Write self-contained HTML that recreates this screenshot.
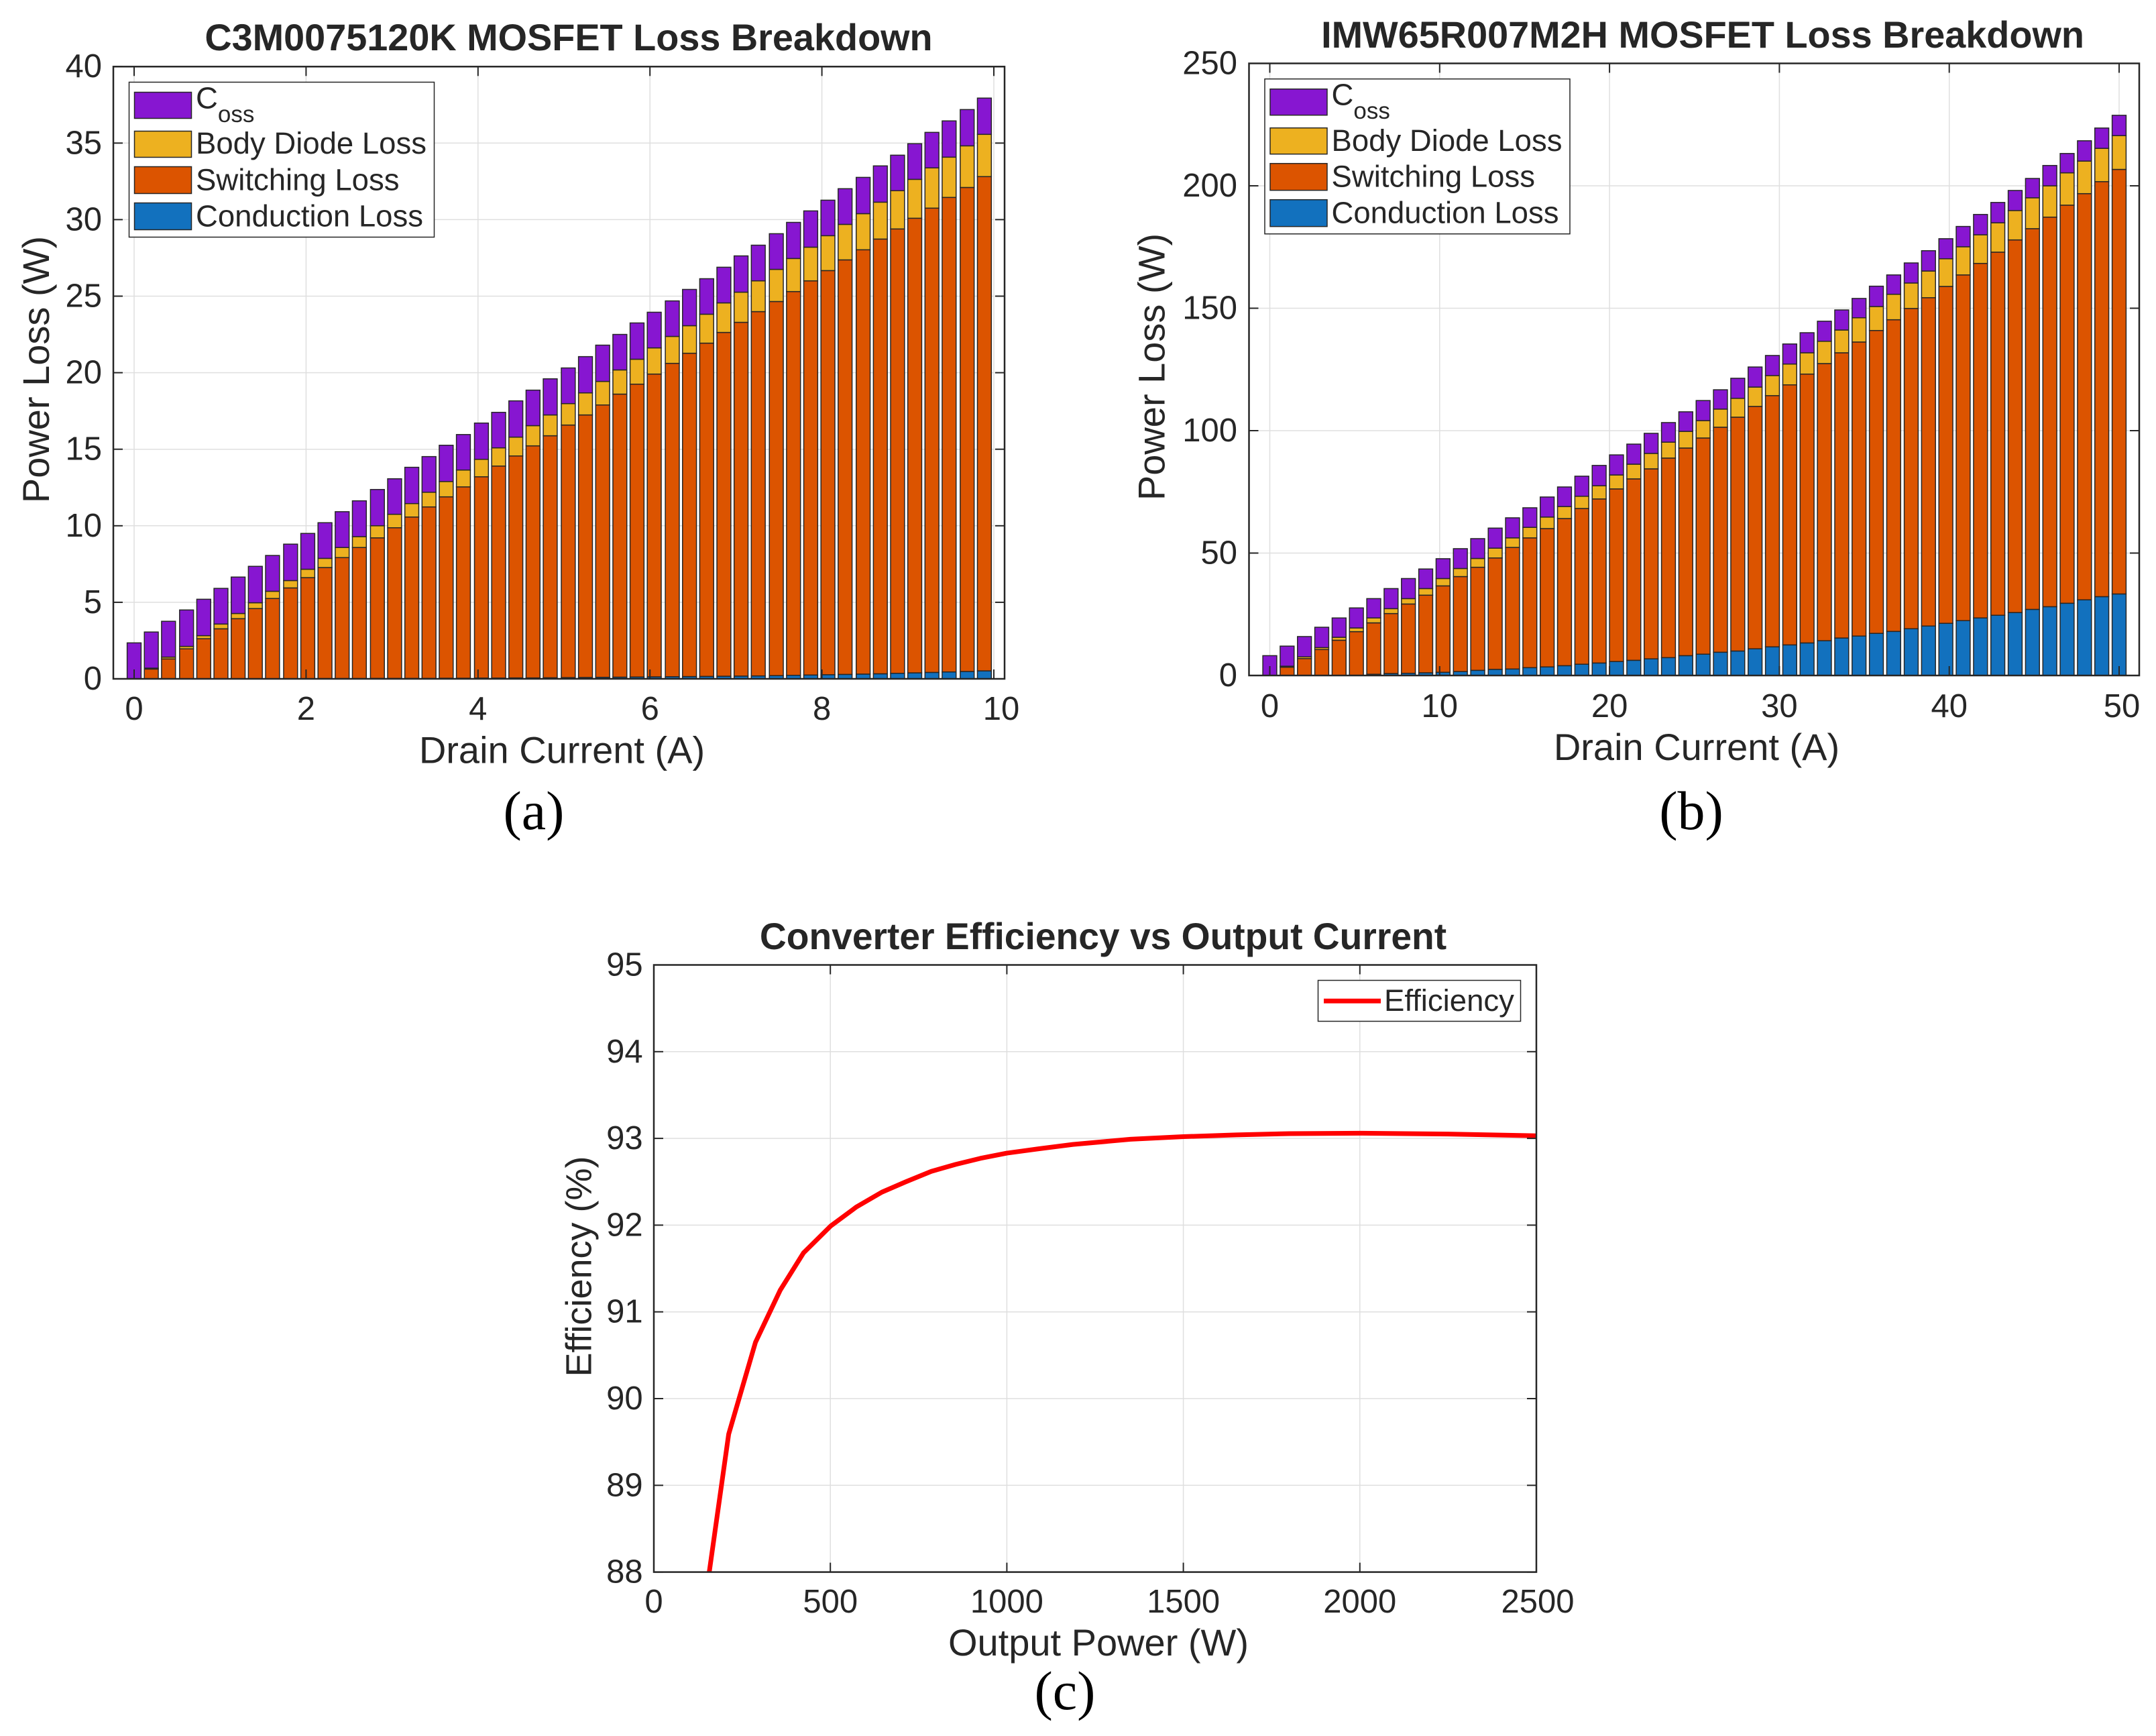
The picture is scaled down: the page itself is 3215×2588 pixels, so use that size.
<!DOCTYPE html>
<html lang="en">
<head>
<meta charset="utf-8">
<title>MOSFET Loss Breakdown and Converter Efficiency</title>
<style>
html,body{margin:0;padding:0;background:#fff;}
svg{display:block;}
text{font-family:"Liberation Sans",Arial,sans-serif;fill:#262626;}
.tick{font-size:49px;}
.axis-label{font-size:56px;}
.title{font-size:55.8px;font-weight:bold;}
.title-c{font-size:55.2px;}
.legend-text{font-size:45.5px;}
.legend-sub{font-size:35px;}
.caption{font-family:"Liberation Serif","Times New Roman",serif;font-size:82px;fill:#000;}
.legend-box{fill:#fff;stroke:#262626;stroke-width:1.5;}
.swatch{stroke:#262626;stroke-width:1.5;}
</style>
</head>
<body>
<svg id="figure" xmlns="http://www.w3.org/2000/svg" width="3215" height="2588" viewBox="0 0 3215 2588">
  <rect x="0" y="0" width="3215" height="2588" fill="#fff"/>
  <defs>
    <clipPath id="clip-c"><rect x="975" y="1438.5" width="1316" height="905.1"/></clipPath>
  </defs>

  <g id="chart-a"></g>
  <g id="chart-b"></g>
  <g id="chart-c"></g>

  <text class="title" x="848" y="75" text-anchor="middle">C3M0075120K MOSFET Loss Breakdown</text>
  <text class="axis-label" x="838" y="1137.5" text-anchor="middle">Drain Current (A)</text>
  <text class="axis-label" transform="translate(73 551) rotate(-90)" text-anchor="middle">Power Loss (W)</text>
  <text class="caption" x="796" y="1236" text-anchor="middle">(a)</text>

  <text class="title" x="2539" y="71" text-anchor="middle">IMW65R007M2H MOSFET Loss Breakdown</text>
  <text class="axis-label" x="2530" y="1133" text-anchor="middle">Drain Current (A)</text>
  <text class="axis-label" transform="translate(1736.5 547) rotate(-90)" text-anchor="middle">Power Loss (W)</text>
  <text class="caption" x="2522" y="1236" text-anchor="middle">(b)</text>

  <text class="title title-c" x="1645" y="1415" text-anchor="middle">Converter Efficiency vs Output Current</text>
  <text class="axis-label" x="1638" y="2468" text-anchor="middle">Output Power (W)</text>
  <text class="axis-label" transform="translate(881.5 1888) rotate(-90)" text-anchor="middle" style="font-size:54px">Efficiency (%)</text>
  <text class="caption" x="1588" y="2548" text-anchor="middle">(c)</text>

  <g id="legend-a">
    <rect class="legend-box" x="192.5" y="122.5" width="455" height="231"/>
    <rect class="swatch" x="200.5" y="137.5" width="85" height="39" fill="#8716d1"/>
    <text class="legend-text" x="292" y="161.5">C<tspan class="legend-sub" dy="20.5">oss</tspan></text>
    <rect class="swatch" x="200.5" y="195.5" width="85" height="39" fill="#edb120"/>
    <text class="legend-text" x="292" y="229">Body Diode Loss</text>
    <rect class="swatch" x="200.5" y="248.5" width="85" height="40" fill="#dc5400"/>
    <text class="legend-text" x="292" y="283.5">Switching Loss</text>
    <rect class="swatch" x="200.5" y="302.5" width="85" height="40" fill="#1271be"/>
    <text class="legend-text" x="292" y="337.5">Conduction Loss</text>
  </g>

  <g id="legend-b" transform="translate(1693.5 -4.8)">
    <rect class="legend-box" x="192.5" y="122.5" width="455" height="231"/>
    <rect class="swatch" x="200.5" y="137.5" width="85" height="39" fill="#8716d1"/>
    <text class="legend-text" x="292" y="161.5">C<tspan class="legend-sub" dy="20.5">oss</tspan></text>
    <rect class="swatch" x="200.5" y="195.5" width="85" height="39" fill="#edb120"/>
    <text class="legend-text" x="292" y="230">Body Diode Loss</text>
    <rect class="swatch" x="200.5" y="248.5" width="85" height="40" fill="#dc5400"/>
    <text class="legend-text" x="292" y="283.5">Switching Loss</text>
    <rect class="swatch" x="200.5" y="302.5" width="85" height="40" fill="#1271be"/>
    <text class="legend-text" x="292" y="337.5">Conduction Loss</text>
  </g>

  <g id="legend-c">
    <rect class="legend-box" x="1965.5" y="1461.5" width="302" height="61"/>
    <line x1="1974" y1="1492.3" x2="2059" y2="1492.3" stroke="#ff0000" stroke-width="7"/>
    <text class="legend-text" x="2064" y="1507">Efficiency</text>
  </g>
</svg>

<script>
// ---------- Chart (a) data: C3M0075120K ----------
const currentA = [0,0.2,0.4,0.61,0.81,1.01,1.21,1.41,1.61,1.82,2.02,2.22,2.42,2.62,2.83,3.03,3.23,3.43,3.63,3.83,4.04,4.24,4.44,4.64,4.84,5.05,5.25,5.45,5.65,5.85,6.05,6.26,6.46,6.66,6.86,7.06,7.26,7.47,7.67,7.87,8.07,8.27,8.48,8.68,8.88,9.08,9.28,9.48,9.69,9.89];
const conductionA = [0,0,0,0,0,0,0,0,0.01,0.01,0.01,0.02,0.02,0.02,0.03,0.03,0.03,0.03,0.04,0.04,0.05,0.05,0.06,0.06,0.07,0.08,0.09,0.1,0.11,0.12,0.13,0.14,0.15,0.16,0.17,0.18,0.19,0.21,0.23,0.25,0.27,0.29,0.31,0.33,0.36,0.39,0.42,0.45,0.48,0.52];
const switchingA = [0,0.64,1.3,1.96,2.62,3.27,3.93,4.59,5.24,5.93,6.6,7.25,7.9,8.56,9.18,9.84,10.54,11.2,11.85,12.5,13.15,13.85,14.5,15.16,15.81,16.5,17.15,17.79,18.49,19.13,19.78,20.47,21.12,21.77,22.46,23.11,23.8,24.44,25.07,25.75,26.4,27.08,27.72,28.4,29.03,29.7,30.33,31,31.62,32.29];
const diodeA = [0,0.06,0.12,0.16,0.2,0.31,0.34,0.38,0.47,0.48,0.55,0.6,0.66,0.71,0.79,0.88,0.88,0.96,1,1.1,1.14,1.19,1.23,1.32,1.36,1.4,1.44,1.54,1.58,1.63,1.71,1.76,1.8,1.89,1.93,1.97,2.01,2.1,2.16,2.2,2.28,2.32,2.36,2.41,2.5,2.54,2.63,2.63,2.72,2.76];
const cossA = [2.35,2.36,2.34,2.38,2.38,2.33,2.38,2.38,2.34,2.38,2.34,2.33,2.34,2.34,2.37,2.32,2.37,2.33,2.37,2.32,2.37,2.32,2.37,2.32,2.36,2.33,2.37,2.37,2.32,2.37,2.33,2.32,2.37,2.32,2.33,2.37,2.33,2.33,2.36,2.37,2.32,2.33,2.37,2.37,2.32,2.33,2.32,2.37,2.37,2.37];
const xTicksA = [0,2,4,6,8,10];
const yTicksA = [0,5,10,15,20,25,30,35,40];

// ---------- Chart (b) data: IMW65R007M2H ----------
const currentB = [0,1.02,2.04,3.06,4.08,5.1,6.12,7.14,8.16,9.18,10.2,11.22,12.24,13.27,14.29,15.31,16.33,17.35,18.37,19.39,20.41,21.43,22.45,23.47,24.49,25.51,26.53,27.55,28.57,29.59,30.61,31.63,32.65,33.67,34.69,35.71,36.73,37.76,38.78,39.8,40.82,41.84,42.86,43.88,44.9,45.92,46.94,47.96,48.98,50];
const conductionB = [0,0,0,0,0,0.1,0.5,0.8,0.9,1.1,1.3,1.6,2.1,2.5,2.65,3.2,3.5,4,4.6,5.1,5.7,6.2,6.8,7.3,8.1,8.7,9.5,10,10.9,11.7,12.5,13.3,14.2,15.3,16.1,17.2,18,19.1,20.2,21.3,22.4,23.5,24.6,25.7,27,28.1,29.5,30.9,32.2,33.3];
const switchingB = [0,3.4,6.9,10.6,14.4,17.8,21,24.5,28.3,31.7,35.3,38.8,42.1,45.5,49.65,53,56.5,60.1,63.6,67,70.5,74.1,77.6,81.5,84.8,88.3,91.9,95.5,99,102.6,106.2,109.8,113.2,116.5,120.1,123.7,127.3,130.8,134.1,137.6,141.2,144.8,148.3,152.2,155.5,159.1,162.6,165.9,169.5,173.4];
const diodeB = [0,0.4,0.7,0.8,1.2,1.5,2,2,2.2,2.7,3,3.3,3.6,4,3.9,4.3,4.7,4.9,5,5.4,5.7,6,6.3,6.5,6.8,7.1,7.4,7.7,7.9,8.2,8.5,8.7,9.1,9.3,9.9,9.8,10.4,10.4,10.9,11.3,11.5,11.7,12,12,12.6,12.8,13.2,13.3,13.6,13.8];
const cossB = [8.1,8.2,8.3,8.3,7.9,8.2,7.9,8.2,8.2,8,8.1,8.1,8.1,8.2,8.2,8,8.2,8,8.2,8.3,8.2,8.2,8.2,8,8,8.2,7.9,8.2,8.2,8.2,8.2,8.2,8.2,8.2,7.9,8.3,7.9,8.2,8.3,8.2,8.3,8.3,8.3,8.2,7.9,8.3,7.9,8.3,8.3,8.3];
const xTicksB = [0,10,20,30,40,50];
const yTicksB = [0,50,100,150,200,250];

// ---------- Chart (c) data: efficiency ----------
const outputPower = [157,212,288,358,424,501,574,646,714,786,855,925,1000,1090,1187,1350,1500,1650,1800,2000,2250,2500];
const efficiency = [88,89.59,90.65,91.25,91.68,91.99,92.21,92.38,92.5,92.62,92.7,92.77,92.83,92.88,92.93,92.99,93.02,93.04,93.055,93.06,93.05,93.03];
const xTicksC = [0,500,1000,1500,2000,2500];
const yTicksC = [88,89,90,91,92,93,94,95];

const SVGNS = 'http://www.w3.org/2000/svg';
const INK = '#262626';
const GRID = '#dfdfdf';

function make(parent, tag, attrs, content) {
  const el = document.createElementNS(SVGNS, tag);
  for (const key in attrs) el.setAttribute(key, attrs[key]);
  if (content !== undefined) el.textContent = content;
  parent.appendChild(el);
  return el;
}

function linearScale(origin, pixelsPerUnit, base) {
  return function (v) { return origin + (v - base) * pixelsPerUnit; };
}

function drawGrid(parent, box, sx, sy, xTicks, yTicks) {
  const g = make(parent, 'g', {});
  
  
  xTicks.forEach(function (t) {
    const el = make(g, 'line', { x1: sx(t), x2: sx(t), y1: box.top, y2: box.bottom, stroke: GRID, 'stroke-width': 1.5 });
    
    
  });
  yTicks.forEach(function (t) {
    const el = make(g, 'line', { x1: box.left, x2: box.right, y1: sy(t), y2: sy(t), stroke: GRID, 'stroke-width': 1.5 });
    
    
  });
}

function drawFrame(parent, box, sx, sy, xTicks, yTicks, opts) {
  const g = make(parent, 'g', {});
  
  
  const frame = make(g, 'rect', { x: box.left, y: box.top, width: box.right - box.left, height: box.bottom - box.top, fill: 'none', stroke: INK, 'stroke-width': 2.5 });
  
  
  xTicks.forEach(function (t, i) {
    const x = sx(t);
    const lower = make(g, 'line', { x1: x, x2: x, y1: box.bottom, y2: box.bottom - 14, stroke: INK, 'stroke-width': 2 });
    
    
    const upper = make(g, 'line', { x1: x, x2: x, y1: box.top, y2: box.top + 14, stroke: INK, 'stroke-width': 2 });
    
    
    const shift = i === xTicks.length - 1 ? opts.lastLabelShift : 0;
    const label = make(g, 'text', { class: 'tick', x: x + shift, y: opts.xLabelY, 'text-anchor': 'middle' }, String(t));
    
    
  });
  yTicks.forEach(function (t) {
    const y = sy(t);
    const left = make(g, 'line', { x1: box.left, x2: box.left + 14, y1: y, y2: y, stroke: INK, 'stroke-width': 2 });
    
    
    const right = make(g, 'line', { x1: box.right, x2: box.right - 14, y1: y, y2: y, stroke: INK, 'stroke-width': 2 });
    
    
    const label = make(g, 'text', { class: 'tick', x: opts.yLabelX, y: y + 16, 'text-anchor': 'end' }, String(t));
    
    
  });
}

function drawStackedBars(parent, sx, sy, categories, layers, barWidth) {
  const g = make(parent, 'g', {});
  
  
  categories.forEach(function (cat, i) {
    let base = 0;
    layers.forEach(function (layer) {
      const v = layer.values[i];
      if (v > 0) {
        const yTop = sy(base + v);
        const yBottom = sy(base);
        const el = make(g, 'rect', {
          x: sx(cat) - barWidth / 2, y: yTop, width: barWidth, height: yBottom - yTop,
          fill: layer.color, stroke: INK, 'stroke-width': 1.5
        });
        
        
      }
      base += v;
    });
  });
}

// Chart (a)
(function () {
  const parent = document.getElementById('chart-a');
  const box = { left: 169, right: 1498, top: 99.3, bottom: 1012 };
  const sx = linearScale(200, 128.2, 0);
  const sy = linearScale(1012, -22.82, 0);
  drawGrid(parent, box, sx, sy, xTicksA, yTicksA);
  drawStackedBars(parent, sx, sy, currentA, [
    { key: 'conduction', values: conductionA, color: '#1271be' },
    { key: 'switching', values: switchingA, color: '#dc5400' },
    { key: 'diode', values: diodeA, color: '#edb120' },
    { key: 'coss', values: cossA, color: '#8716d1' }
  ], 20.8);
  drawFrame(parent, box, sx, sy, xTicksA, yTicksA, { xLabelY: 1073, yLabelX: 152, lastLabelShift: 11 });
})();

// Chart (b)
(function () {
  const parent = document.getElementById('chart-b');
  const box = { left: 1862.5, right: 3190, top: 94.5, bottom: 1007 };
  const sx = linearScale(1893.5, 25.33, 0);
  const sy = linearScale(1007, -3.65, 0);
  drawGrid(parent, box, sx, sy, xTicksB, yTicksB);
  drawStackedBars(parent, sx, sy, currentB, [
    { key: 'conduction', values: conductionB, color: '#1271be' },
    { key: 'switching', values: switchingB, color: '#dc5400' },
    { key: 'diode', values: diodeB, color: '#edb120' },
    { key: 'coss', values: cossB, color: '#8716d1' }
  ], 20.8);
  drawFrame(parent, box, sx, sy, xTicksB, yTicksB, { xLabelY: 1069, yLabelX: 1845, lastLabelShift: 4 });
})();

// Chart (c)
(function () {
  const parent = document.getElementById('chart-c');
  const box = { left: 975, right: 2291, top: 1438.5, bottom: 2343.6 };
  const sx = linearScale(975, 0.5264, 0);
  const sy = linearScale(2343.6, -129.3, 88);
  drawGrid(parent, box, sx, sy, xTicksC, yTicksC);
  const pts = outputPower.map(function (p, i) { return sx(p) + ',' + sy(efficiency[i]); }).join(' ');
  const line = make(parent, 'polyline', { points: pts, fill: 'none', stroke: '#ff0000', 'stroke-width': 7, 'stroke-linejoin': 'round', 'clip-path': 'url(#clip-c)' });
  
  
  drawFrame(parent, box, sx, sy, xTicksC, yTicksC, { xLabelY: 2404, yLabelX: 958.7, lastLabelShift: 2 });
})();
</script>
</body>
</html>
